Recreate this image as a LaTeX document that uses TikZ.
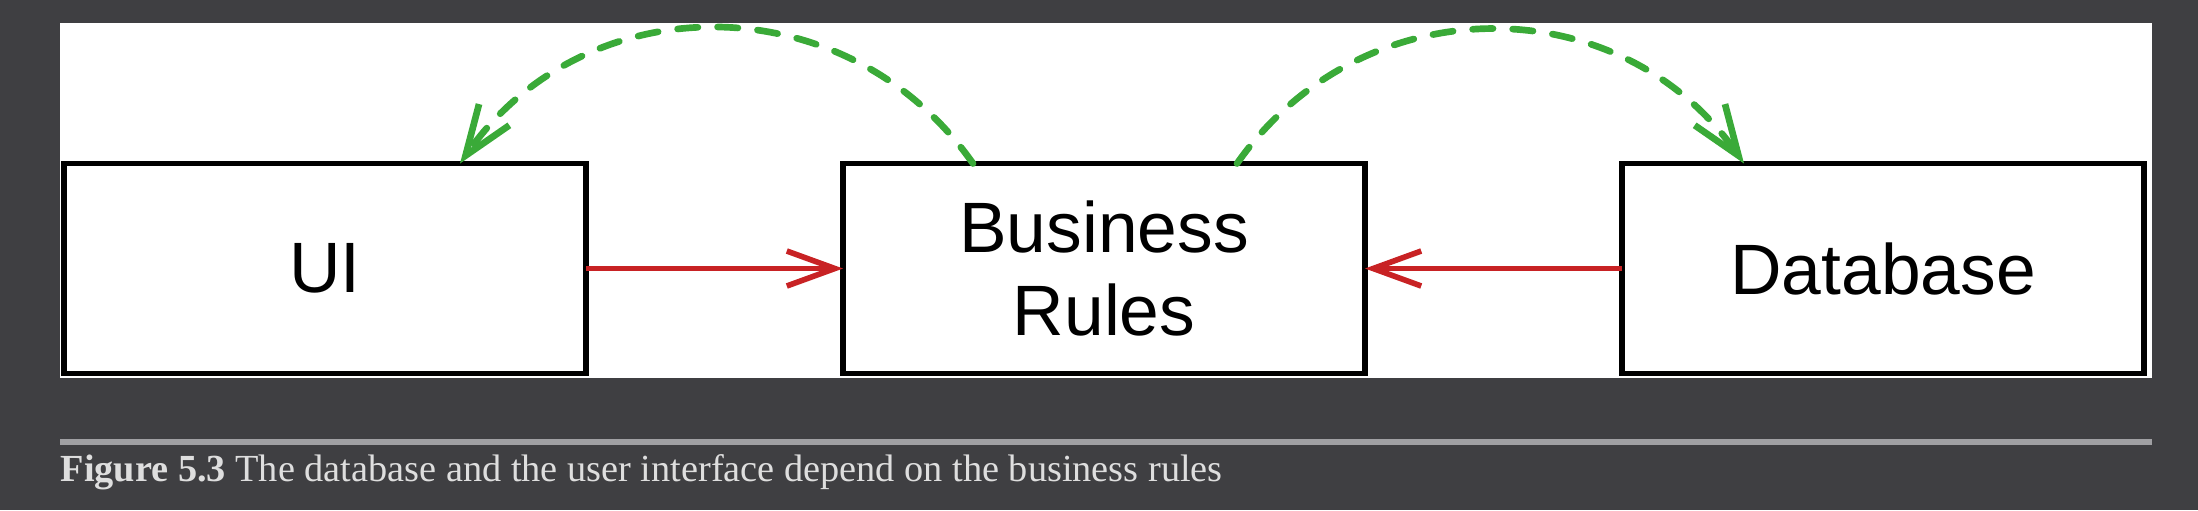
\documentclass[tikz,border=0pt]{standalone}
\usepackage{fontspec}
\setmainfont{Liberation Sans}
\newfontfamily\capfont{Liberation Serif}
\usetikzlibrary{arrows.meta,positioning}
\definecolor{ink}{RGB}{0,0,0}
\definecolor{page}{RGB}{63,63,66}
\definecolor{rulegray}{RGB}{160,160,163}
\definecolor{captext}{RGB}{222,222,222}
\definecolor{calls}{RGB}{200,34,36}
\definecolor{deps}{RGB}{58,170,56}
\tikzset{
  node distance=2.57cm,
  box/.style={draw=ink, line width=1.6pt, fill=white, minimum width=5.22cm, minimum height=2.1cm, outer sep=0pt, align=center, font=\fontsize{20.3}{23.5}\selectfont},
  flow/.style={-{Straight Barb[length=4.8mm,width=3.5mm]}, line width=1.6pt, color=calls},
  dep/.style={-{Straight Barb[length=5mm,width=3.7mm]}, line width=1.9pt, color=deps, dash pattern=on 5.8pt off 5.6pt, line cap=round},
  figcap/.style={font=\capfont\fontsize{10.9}{13}\selectfont, text=captext, inner sep=0pt},
}

\begin{document}
\begin{tikzpicture}
  % dark page, white panel, then the three layers and who depends on whom
  \fill[page] (0,0) rectangle (21.98,-5.10);
  \useasboundingbox (0,0) rectangle (21.98,-5.10);
  \fill[white] (0.60,-0.23) rectangle (21.52,-3.78);
  \node[box] (ui) at (3.25,-2.685) {UI};
  \node[box, right=of ui] (rules) {Business\\Rules};
  \node[box, right=of rules] (db) {Database};
  \draw[flow] (ui) -- (rules);
  \draw[flow] (db) -- (rules);
  \draw[dep] ([xshift=-1.31cm]rules.north) to[out=125, in=55, looseness=1.1] ([xshift=1.35cm]ui.north);
  \draw[dep] ([xshift=1.33cm]rules.north) to[out=55, in=125, looseness=1.1] ([xshift=-1.39cm]db.north);
  \draw[rulegray, line width=1.6pt] (0.60,-4.42) -- (21.52,-4.42);
  \node[figcap, anchor=base west] (caption) at (0.60,-4.81) {\textbf{Figure 5.3} The database and the user interface depend on the business rules};
\end{tikzpicture}
\end{document}
